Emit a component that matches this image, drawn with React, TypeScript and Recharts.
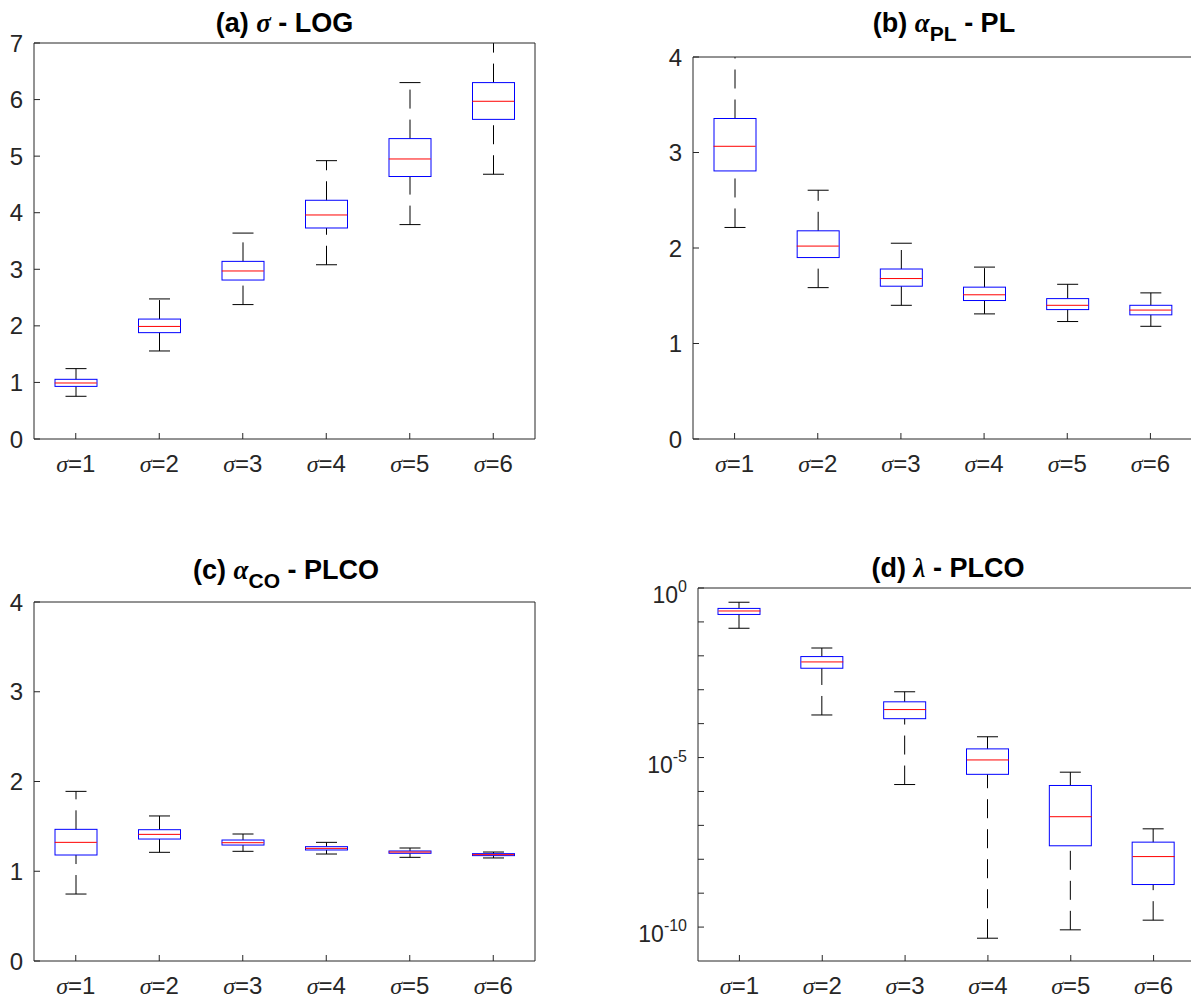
import React from 'react';
import { ComposedChart, Bar, Scatter, XAxis, YAxis } from 'recharts';

const categories = ['σ=1', 'σ=2', 'σ=3', 'σ=4', 'σ=5', 'σ=6'];

// (a) sigma - LOG
const aLow = [0.755, 1.556, 2.376, 3.08, 3.79, 4.68];
const aQ1 = [0.93, 1.88, 2.81, 3.73, 4.64, 5.65];
const aMed = [0.99, 1.99, 2.97, 3.96, 4.95, 5.97];
const aQ3 = [1.055, 2.12, 3.14, 4.22, 5.31, 6.3];
const aHigh = [1.244, 2.476, 3.64, 4.92, 6.3, 7.15];

// (b) alpha_PL - PL
const bLow = [2.215, 1.585, 1.4, 1.31, 1.23, 1.18];
const bQ1 = [2.807, 1.9, 1.6, 1.45, 1.355, 1.3];
const bMed = [3.065, 2.02, 1.68, 1.51, 1.4, 1.35];
const bQ3 = [3.356, 2.18, 1.78, 1.59, 1.47, 1.4];
const bHigh = [4.3, 2.605, 2.05, 1.8, 1.62, 1.53];

// (c) alpha_CO - PLCO
const cLow = [0.746, 1.211, 1.222, 1.192, 1.155, 1.148];
const cQ1 = [1.181, 1.359, 1.292, 1.237, 1.2, 1.174];
const cMed = [1.322, 1.411, 1.318, 1.255, 1.214, 1.185];
const cQ3 = [1.467, 1.463, 1.348, 1.274, 1.226, 1.196];
const cHigh = [1.89, 1.616, 1.415, 1.322, 1.259, 1.214];

// (d) lambda - PLCO (log axis)
const dLow = [0.065, 1.8e-4, 1.6e-6, 4.7e-11, 8.3e-11, 1.6e-10];
const dQ1 = [0.166, 4.3e-3, 1.4e-4, 3.2e-6, 2.5e-8, 1.8e-9];
const dMed = [0.21, 6.6e-3, 2.6e-4, 8.5e-6, 1.8e-7, 1.2e-8];
const dQ3 = [0.25, 9.5e-3, 4.4e-4, 1.8e-5, 1.5e-6, 3.2e-8];
const dHigh = [0.38, 0.017, 8.7e-4, 4.1e-5, 3.7e-6, 7.9e-8];

const linTicks7 = [0, 1, 2, 3, 4, 5, 6, 7];
const linTicks4 = [0, 1, 2, 3, 4];
const logTicks = [1, 1e-1, 1e-2, 1e-3, 1e-4, 1e-5, 1e-6, 1e-7, 1e-8, 1e-9, 1e-10];

const AX = '#262626';
const SANS = '"Liberation Sans", Arial, Helvetica, sans-serif';
const SERIF = '"Liberation Serif", "Times New Roman", serif';
const BOX_W = 42;

const buildRows = (lo: number[], q1: number[], med: number[], q3: number[], hi: number[]) =>
  categories.map((name, i) => ({
    name,
    lowW: [lo[i], q1[i]],
    upW: [q3[i], hi[i]],
    box: [q1[i], q3[i]],
    med: med[i],
  }));

const LowerWhisker = (props: any) => {
  const { x, y, width, height } = props;
  const cx = x + width / 2;
  const top = Math.min(y, y + height);
  const bottom = Math.max(y, y + height);
  return (
    <g>
      <line x1={cx} x2={cx} y1={bottom} y2={top} stroke="#000" strokeDasharray="19 11" />
      <line x1={cx - width / 4} x2={cx + width / 4} y1={bottom} y2={bottom} stroke="#000" />
    </g>
  );
};

const UpperWhisker = (props: any) => {
  const { x, y, width, height } = props;
  const cx = x + width / 2;
  const top = Math.min(y, y + height);
  const bottom = Math.max(y, y + height);
  return (
    <g>
      <line x1={cx} x2={cx} y1={bottom} y2={top} stroke="#000" strokeDasharray="19 11" />
      <line x1={cx - width / 4} x2={cx + width / 4} y1={top} y2={top} stroke="#000" />
    </g>
  );
};

const BoxShape = (props: any) => {
  const { x, y, width, height } = props;
  return <rect x={x} y={Math.min(y, y + height)} width={width} height={Math.abs(height)} fill="none" stroke="#0000FF" />;
};

const MedianMark = (props: any) => {
  const { cx, cy } = props;
  return <line x1={cx - BOX_W / 2} x2={cx + BOX_W / 2} y1={cy} y2={cy} stroke="#FF0000" />;
};

const SigmaTick = (props: any) => {
  const { x, y, payload } = props;
  const [sym, num] = String(payload.value).split('=');
  return (
    <text x={x} y={y} textAnchor="middle" fontSize={24} fill={AX} fontFamily={SANS}>
      <tspan fontFamily={SERIF} fontStyle="italic">{sym}</tspan>={num}
    </text>
  );
};

const LinearTick = (props: any) => {
  const { x, y, payload } = props;
  return (
    <text x={x} y={y} dy={8.5} textAnchor="end" fontSize={24} fill={AX} fontFamily={SANS}>
      {payload.value}
    </text>
  );
};

const LogTick = (props: any) => {
  const { x, y, payload } = props;
  const exp = Math.round(Math.log10(payload.value));
  if (exp % 5 !== 0) return <g />;
  return (
    <text x={x} y={y + 15} textAnchor="end" fill={AX} fontFamily={SANS}>
      <tspan fontSize={23}>10</tspan>
      <tspan fontSize={16} dy={-11}>{String(exp)}</tspan>
    </text>
  );
};

type PanelProps = {
  left: number;
  top: number;
  width: number;
  height: number;
  margin: { top: number; right: number; bottom: number; left: number };
  yWidth: number;
  rows: any[];
  domain: [number, number];
  ticks: number[];
  log?: boolean;
};

function BoxPanel({ left, top, width, height, margin, yWidth, rows, domain, ticks, log }: PanelProps) {
  const scale = log ? 'log' : 'linear';
  return (
    <div style={{ position: 'absolute', left, top, width, height }}>
      <ComposedChart width={width} height={height} data={rows} margin={margin} barGap={-BOX_W}>
        <XAxis
          xAxisId="top"
          orientation="top"
          dataKey="name"
          height={1}
          tick={false}
          tickSize={-6}
          interval={0}
          axisLine={{ stroke: AX }}
          tickLine={{ stroke: AX }}
        />
        <XAxis
          dataKey="name"
          height={61}
          interval={0}
          tickSize={-6}
          tickMargin={39}
          tick={<SigmaTick />}
          axisLine={{ stroke: AX }}
          tickLine={{ stroke: AX }}
        />
        <YAxis
          scale={scale}
          domain={domain}
          ticks={ticks}
          allowDataOverflow
          width={yWidth}
          interval={0}
          tickSize={-6}
          tickMargin={17}
          tick={log ? <LogTick /> : <LinearTick />}
          axisLine={{ stroke: AX }}
          tickLine={{ stroke: AX }}
        />
        <YAxis
          yAxisId="right"
          orientation="right"
          scale={scale}
          domain={domain}
          ticks={ticks}
          allowDataOverflow
          width={1}
          interval={0}
          tick={false}
          tickSize={-6}
          axisLine={{ stroke: AX }}
          tickLine={{ stroke: AX }}
        />
        <Bar dataKey="lowW" barSize={BOX_W} shape={<LowerWhisker />} isAnimationActive={false} />
        <Bar dataKey="upW" barSize={BOX_W} shape={<UpperWhisker />} isAnimationActive={false} />
        <Bar dataKey="box" barSize={BOX_W} shape={<BoxShape />} isAnimationActive={false} />
        <Scatter dataKey="med" shape={<MedianMark />} isAnimationActive={false} />
      </ComposedChart>
    </div>
  );
}

export default function App() {
  const titleStyle = { whiteSpace: 'pre' as const };
  return (
    <div style={{ position: 'absolute', left: 0, top: 0, width: 1191, height: 1003, overflow: 'hidden', background: '#fff' }}>
      <BoxPanel
        left={0}
        top={0}
        width={560}
        height={500}
        margin={{ top: 42, right: 24, bottom: 0, left: 0 }}
        yWidth={34}
        rows={buildRows(aLow, aQ1, aMed, aQ3, aHigh)}
        domain={[0, 7]}
        ticks={linTicks7}
      />
      <BoxPanel
        left={620}
        top={0}
        width={590}
        height={500}
        margin={{ top: 56, right: 17, bottom: 0, left: 0 }}
        yWidth={73}
        rows={buildRows(bLow, bQ1, bMed, bQ3, bHigh)}
        domain={[0, 4]}
        ticks={linTicks4}
      />
      <BoxPanel
        left={0}
        top={560}
        width={560}
        height={462}
        margin={{ top: 41, right: 24, bottom: 0, left: 0 }}
        yWidth={34}
        rows={buildRows(cLow, cQ1, cMed, cQ3, cHigh)}
        domain={[0, 4]}
        ticks={linTicks4}
      />
      <BoxPanel
        left={600}
        top={560}
        width={610}
        height={462}
        margin={{ top: 27, right: 14, bottom: 0, left: 0 }}
        yWidth={98}
        rows={buildRows(dLow, dQ1, dMed, dQ3, dHigh)}
        domain={[1e-11, 1]}
        ticks={logTicks}
        log
      />
      <svg width={1191} height={1003} style={{ position: 'absolute', left: 0, top: 0, pointerEvents: 'none' }}>
        <g fontFamily={SANS} fontWeight="bold" fontSize={27} fill="#000" textAnchor="middle" style={titleStyle}>
          <text x={284.5} y={32}>
            (a) <tspan fontFamily={SERIF} fontStyle="italic">σ</tspan> - LOG
          </text>
          <text x={944} y={32}>
            {'(b)  '}
            <tspan fontFamily={SERIF} fontStyle="italic">α</tspan>
            <tspan dy={9} fontSize={21}>PL</tspan>
            <tspan dy={-9}>{' - PL'}</tspan>
          </text>
          <text x={286} y={579}>
            {'(c) '}
            <tspan fontFamily={SERIF} fontStyle="italic">α</tspan>
            <tspan dy={9} fontSize={21}>CO</tspan>
            <tspan dy={-9}>{' - PLCO'}</tspan>
          </text>
          <text x={948} y={577}>
            {'(d)  '}
            <tspan fontFamily={SERIF} fontStyle="italic">λ</tspan>
            {' - PLCO'}
          </text>
        </g>
      </svg>
    </div>
  );
}
